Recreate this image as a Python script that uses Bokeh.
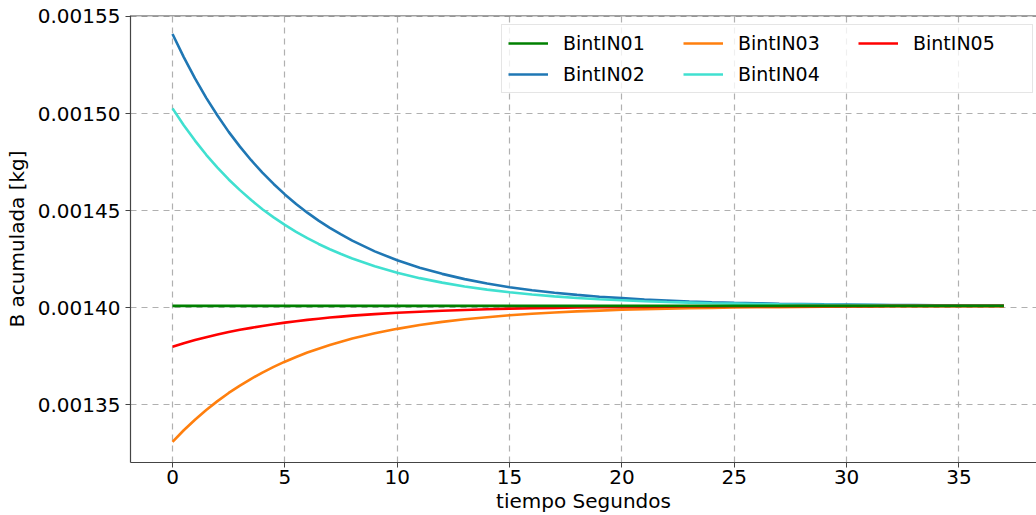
import numpy as np
from bokeh.plotting import figure
from bokeh.models import (FixedTicker, NumeralTickFormatter, Legend, LegendItem, Span, Range1d)
from bokeh.embed import file_html
from bokeh.resources import INLINE

# time in seconds
t = [0, 0.5, 1, 1.5, 2, 2.5, 3, 3.5, 4, 4.5, 5, 5.5, 6, 6.5, 7, 7.5, 8,
     9, 10, 11, 12, 13, 14, 15, 16, 17, 18, 19, 20, 21, 22, 23, 24, 25, 26, 27,
     28, 29, 30, 31, 32, 33, 34, 35, 36, 37]

# values in micro-kg (1e-6 kg)
b01 = [1401.0] * len(t)
b02 = [1541.0, 1529.1, 1518.1, 1508.1, 1499.0, 1490.6, 1483.0, 1476.0, 1469.6, 1463.8,
       1458.4, 1453.5, 1449.0, 1444.9, 1441.2, 1437.8, 1434.6,
       1429.1, 1424.5, 1420.7, 1417.5, 1414.8, 1412.5, 1410.6, 1409.1, 1407.8, 1406.7,
       1405.7, 1405.0, 1404.3, 1403.8, 1403.3, 1402.9, 1402.6, 1402.4, 1402.1, 1402.0,
       1401.8, 1401.7, 1401.6, 1401.5, 1401.4, 1401.3, 1401.3, 1401.2, 1401.2]
b03 = [1331.0, 1337.0, 1342.4, 1347.4, 1352.0, 1356.2, 1360.0, 1363.5, 1366.7, 1369.6,
       1372.3, 1374.7, 1377.0, 1379.0, 1380.9, 1382.6, 1384.2,
       1386.9, 1389.2, 1391.2, 1392.8, 1394.1, 1395.2, 1396.2, 1397.0, 1397.6, 1398.2,
       1398.6, 1399.0, 1399.3, 1399.6, 1399.8, 1400.0, 1400.2, 1400.3, 1400.4, 1400.5,
       1400.6, 1400.7, 1400.7, 1400.8, 1400.8, 1400.8, 1400.9, 1400.9, 1400.9]
b04 = [1502.7, 1494.0, 1486.1, 1478.8, 1472.2, 1466.1, 1460.6, 1455.5, 1450.8, 1446.6,
       1442.7, 1439.1, 1435.9, 1432.9, 1430.2, 1427.7, 1425.4,
       1421.4, 1418.1, 1415.3, 1413.0, 1411.0, 1409.4, 1408.0, 1406.9, 1405.9, 1405.1,
       1404.4, 1403.9, 1403.4, 1403.0, 1402.7, 1402.4, 1402.2, 1402.0, 1401.8, 1401.7,
       1401.6, 1401.5, 1401.4, 1401.3, 1401.3, 1401.2, 1401.2, 1401.2, 1401.1]
b05 = [1380.0, 1381.8, 1383.4, 1384.9, 1386.3, 1387.6, 1388.7, 1389.7, 1390.7, 1391.6,
       1392.4, 1393.1, 1393.8, 1394.4, 1395.0, 1395.5, 1396.0,
       1396.8, 1397.5, 1398.0, 1398.5, 1398.9, 1399.3, 1399.6, 1399.8, 1400.0, 1400.2,
       1400.3, 1400.4, 1400.5, 1400.6, 1400.7, 1400.7, 1400.8, 1400.8, 1400.8, 1400.9,
       1400.9, 1400.9, 1400.9, 1401.0, 1401.0, 1401.0, 1401.0, 1401.0, 1401.0]

names = ["BintIN01", "BintIN02", "BintIN03", "BintIN04", "BintIN05"]
colors = ["#008000", "#1f77b4", "#ff7f0e", "#40e0d0", "#ff0000"]
x_ticks = [0, 5, 10, 15, 20, 25, 30, 35]
y_ticks = [0.00135, 0.00140, 0.00145, 0.00150, 0.00155]

series = [np.array(s) * 1e-6 for s in (b01, b02, b03, b04, b05)]

FONT = "DejaVu Sans"
FS = "20px"
Y_END = 0.0015505

p = figure(width=1036, height=515, output_backend="svg", toolbar_location=None,
           x_range=Range1d(-1.87, 38.45), y_range=Range1d(0.0013204, Y_END),
           min_border_left=130, min_border_top=15, min_border_right=0, min_border_bottom=50)
p.outline_line_color = None

renderers = {}
draw_order = [1, 2, 3, 4, 0]
for i in draw_order:
    r = p.line(t, series[i], line_color=colors[i], line_width=2.6)
    renderers[i] = r

p.xaxis.ticker = FixedTicker(ticks=x_ticks)
p.yaxis.ticker = FixedTicker(ticks=y_ticks)
p.yaxis.formatter = NumeralTickFormatter(format="0.00000")
p.xaxis.axis_label = "tiempo Segundos"
p.yaxis.axis_label = "B acumulada [kg]"

for ax in (p.xaxis[0], p.yaxis[0]):
    ax.axis_line_color = "#444444"
    ax.axis_line_width = 1.2
    ax.major_tick_line_color = "#444444"
    ax.major_tick_out = 5
    ax.major_tick_in = 0
    ax.minor_tick_line_color = None
    ax.major_label_text_font = FONT
    ax.major_label_text_font_size = FS
    ax.major_label_text_color = "#000000"
    ax.axis_label_text_font = FONT
    ax.axis_label_text_font_size = FS
    ax.axis_label_text_font_style = "normal"
    ax.axis_label_text_color = "#000000"
p.yaxis.major_label_standoff = 5
p.xaxis.major_label_standoff = 2
p.xaxis.axis_label_standoff = 2
p.yaxis.axis_label_standoff = 6

for g in (p.xgrid[0], p.ygrid[0]):
    g.grid_line_color = "#b0b0b0"
    g.grid_line_dash = "6 5"
    g.grid_line_width = 1.2

top = Span(location=Y_END, dimension="width", line_color="#444444", line_width=1.5)
p.add_layout(top)

legend = Legend(items=[LegendItem(label=names[i], renderers=[renderers[i]]) for i in range(5)],
                orientation="vertical", nrows=2,
                location=(371, 369),
                label_text_font=FONT, label_text_font_size="19px", label_text_color="#000000",
                glyph_width=40, glyph_height=24, label_height=24, label_width=113,
                label_standoff=15, spacing=7, padding=6, margin=0,
                border_line_color="#cccccc", border_line_width=1,
                background_fill_color="white", background_fill_alpha=0.8)
p.add_layout(legend)

open("out.html", "w").write(file_html(p, INLINE))
